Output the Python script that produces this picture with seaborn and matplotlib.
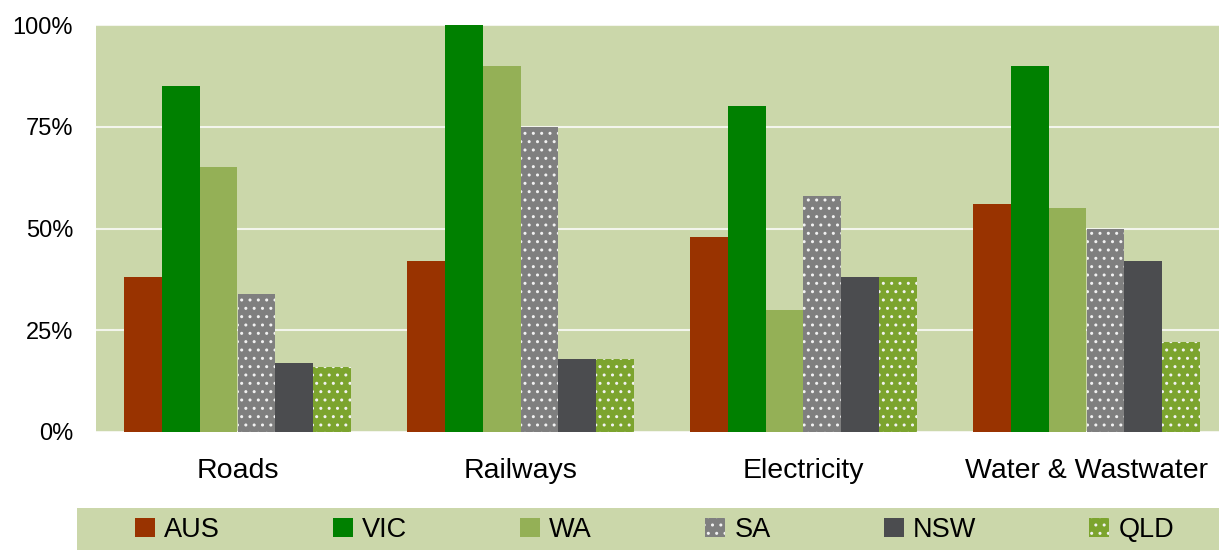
import matplotlib
matplotlib.use("Agg")
import matplotlib.pyplot as plt
from matplotlib.patches import Rectangle
from matplotlib.ticker import FuncFormatter
import seaborn as sns
import pandas as pd

# Share of projects by infrastructure sector and jurisdiction (%)
categories = ["Roads", "Railways", "Electricity", "Water & Wastwater"]
states = ["AUS", "VIC", "WA", "SA", "NSW", "QLD"]
aus = [38, 42, 48, 56]
vic = [85, 100, 80, 90]
wa = [65, 90, 30, 55]
sa = [34, 75, 58, 50]
nsw = [17, 18, 38, 42]
qld = [16, 18, 38, 22]
yticks = [0, 25, 50, 75, 100]

series = {"AUS": aus, "VIC": vic, "WA": wa, "SA": sa, "NSW": nsw, "QLD": qld}
rows = []
for st in states:
    for cat, v in zip(categories, series[st]):
        rows.append({"sector": cat, "state": st, "value": v})
df = pd.DataFrame(rows)

palette = {
    "AUS": "#993300",
    "VIC": "#008000",
    "WA": "#94B056",
    "SA": "#7F7F7F",
    "NSW": "#4B4C4F",
    "QLD": "#7CA42E",
}
dotted = {"SA", "QLD"}
bg = "#CBD7AA"

sns.set_style("white")
plt.rcParams["font.family"] = ["Liberation Sans", "DejaVu Sans"]
plt.rcParams["text.color"] = "black"
plt.rcParams["xtick.color"] = "black"
plt.rcParams["ytick.color"] = "black"
plt.rcParams["hatch.linewidth"] = 1.0

fig = plt.figure(figsize=(12.19, 5.5), dpi=100)
ax = fig.add_axes([96 / 1219, 118 / 550, 1132 / 1219, 407 / 550])
ax.set_facecolor(bg)

sns.barplot(data=df, x="sector", y="value", hue="state", order=categories,
            hue_order=states, palette=palette, saturation=1, width=0.8,
            errorbar=None, legend=False, ax=ax, zorder=3)

for st, cont in zip(states, ax.containers):
    for p in cont.patches:
        p.set_linewidth(0)
        if st in dotted:
            p.set_hatch("..")
            p.set_edgecolor("#F2F2F2")
        else:
            p.set_edgecolor(palette[st])

ax.set_ylim(0, 100)
ax.set_xlim(-0.5, 3.5)
ax.set_yticks(yticks)
ax.yaxis.set_major_formatter(FuncFormatter(lambda v, _: f"{v:.0f}%"))
ax.yaxis.grid(True, color="#F3F5EC", linewidth=1.5, zorder=0)
ax.set_axisbelow(True)
for s in ax.spines.values():
    s.set_visible(False)
ax.tick_params(axis="y", length=0, pad=16.5, labelsize=17, labelcolor="black")
ax.tick_params(axis="x", length=0, pad=19, labelsize=20.5, labelcolor="black")
ax.set_xlabel("")
ax.set_ylabel("")

# Legend band along the bottom
fig.patches.append(Rectangle((77 / 1219, 0), 1 - 77 / 1219, 42 / 550,
                             transform=fig.transFigure, facecolor=bg,
                             edgecolor="none", zorder=0))
handles = list(ax.containers)
leg = fig.legend(handles, states, ncol=6, loc="center left",
                 bbox_to_anchor=(135 / 1219, 20 / 550), frameon=False,
                 fontsize=19.5, handlelength=0.74, handleheight=0.74,
                 handletextpad=0.33, columnspacing=4.18, borderpad=0,
                 borderaxespad=0)
for t in leg.get_texts():
    t.set_color("black")

fig.savefig("out.png", dpi=100)
